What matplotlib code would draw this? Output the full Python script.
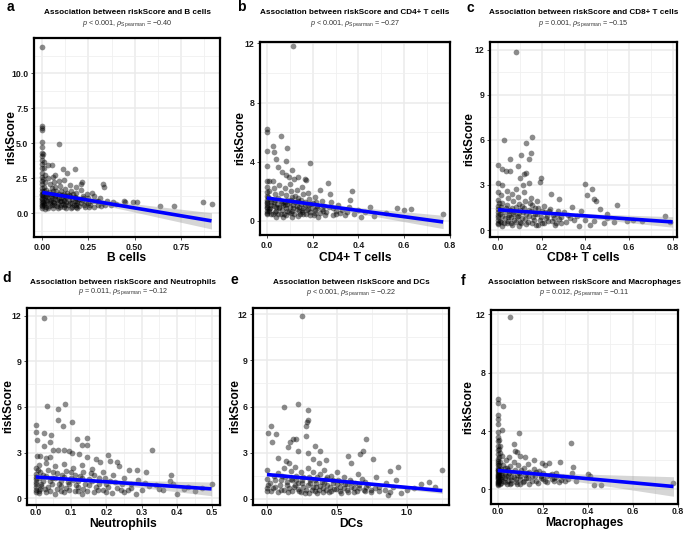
import numpy as np
import matplotlib
matplotlib.use("Agg")
import matplotlib.pyplot as plt
from matplotlib.ticker import FixedLocator

plt.rcParams['font.family'] = ['Liberation Sans', 'DejaVu Sans']
plt.rcParams['mathtext.fontset'] = 'custom'
plt.rcParams['mathtext.rm'] = 'Liberation Sans'
plt.rcParams['mathtext.it'] = 'Liberation Sans:italic'

# ---------------- data ----------------
cell_types = ["B cells", "CD4+ T cells", "CD8+ T cells", "Neutrophils", "DCs", "Macrophages"]
panel_letters = ["a", "b", "c", "d", "e", "f"]
p_texts = ["< 0.001", "< 0.001", "= 0.001", "= 0.011", "< 0.001", "= 0.012"]
rho_values = ["\u22120.40", "\u22120.27", "\u22120.15", "\u22120.12", "\u22120.22", "\u22120.11"]

# regression line: (x_start, y_start, x_end, y_end), CI half-widths
fit_lines = [(0.0, 1.48, 0.916, -0.55), (0.0, 1.55, 0.77, -0.07), (0.0, 1.35, 0.80, 0.54),
             (0.0, 1.39, 0.498, 0.61), (0.0, 1.58, 1.252, 0.53), (0.0, 1.30, 0.78, 0.20)]
ci_end_halfwidth = [0.58, 0.45, 0.35, 0.45, 0.18, 0.67]
ci_min_halfwidth = [0.06, 0.07, 0.06, 0.08, 0.05, 0.06]
x_means = [0.08, 0.12, 0.14, 0.11, 0.42, 0.08]

a_pts = [(0,11.85),(0,6.25),(0,6.05),(0,5.9),(0,5.05),(0,4.75),(0,4.3),(0,4.05),(0,3.8),(0,3.5),(0,3.2),(0,2.9),
 (0,2.6),(0,2.3),(0,2.05),(0,1.8),(0,1.55),(0,1.3),(0,1.1),(0,0.9),(0,0.7),(0,0.5),(0,0.35),
 (0.005,4.2),(0.008,3.65),(0.01,3.2),(0.012,2.75),(0.006,2.45),(0.015,2.2),(0.01,1.9),(0.02,1.65),(0.005,1.45),
 (0.018,1.25),(0.012,1.05),(0.025,0.85),(0.008,0.65),(0.02,0.45),(0.015,0.3),
 (0.089,4.95),(0.029,3.45),(0.054,3.45),(0.11,3.14),(0.175,3.14),(0.136,2.86),(0.07,2.75),(0.207,2.1),(0.215,2.25),
 (0.327,2.1),(0.336,1.86),(0.27,1.43),(0.44,0.9),(0.445,0.8),(0.49,0.83),(0.51,0.79),(0.636,0.48),(0.714,0.48),
 (0.87,0.83),(0.916,0.69),
 (0.03,2.5),(0.04,2.1),(0.05,1.8),(0.035,1.5),(0.045,1.2),(0.04,0.9),(0.05,0.6),(0.03,0.4),
 (0.06,2.6),(0.065,2.2),(0.07,1.9),(0.06,1.55),(0.075,1.3),(0.07,1.0),(0.065,0.75),(0.08,0.5),(0.06,0.35),
 (0.09,2.3),(0.095,1.95),(0.1,1.6),(0.09,1.35),(0.1,1.1),(0.095,0.85),(0.1,0.55),(0.085,0.35),
 (0.12,2.4),(0.125,1.7),(0.115,1.4),(0.13,1.15),(0.12,0.9),(0.125,0.6),(0.13,0.38),
 (0.15,2.0),(0.155,1.6),(0.145,1.3),(0.16,1.0),(0.15,0.75),(0.16,0.45),
 (0.18,1.9),(0.185,1.45),(0.175,1.15),(0.19,0.85),(0.18,0.55),(0.19,0.35),
 (0.21,1.65),(0.22,1.25),(0.215,0.95),(0.225,0.6),(0.24,1.35),(0.25,1.05),(0.245,0.7),(0.255,0.45),
 (0.28,1.2),(0.29,0.9),(0.3,0.6),(0.31,1.05),(0.33,0.75),(0.35,0.9),(0.37,0.55),(0.38,0.8),(0.4,0.65),
 (0.01,0.55),(0.015,0.75),(0.02,0.95),(0.025,1.15),(0.03,1.35),(0.01,1.6),(0.035,0.5),(0.04,0.7),(0.045,0.95),
 (0.05,1.4),(0.055,1.05),(0.06,0.8),(0.065,0.55),(0.07,1.2),(0.075,1.55),(0.08,0.95),(0.085,0.7),(0.09,1.1),
 (0.095,0.45),(0.1,0.9),(0.105,1.3),(0.11,0.65),(0.115,0.95),(0.12,0.45),(0.125,1.25),(0.13,0.8),(0.135,1.45),
 (0.14,0.55),(0.145,0.95),(0.15,1.2),(0.155,0.4),(0.16,0.75),(0.165,1.35),(0.17,0.6),(0.175,0.9),(0.18,1.1),
 (0.185,0.45),(0.19,0.7),(0.2,1.0),(0.2,0.5),(0.21,0.75),(0.22,1.05),(0.23,0.45),(0.235,0.8),(0.26,0.6),
 (0.27,0.9),(0.28,0.45),(0.3,0.85),(0.32,0.5),(0.34,0.6),(0.005,0.8),(0.005,1.2),(0.0,0.6),(0.0,1.0),(0.0,1.4)]

b_pts = [(0.114,11.85),(0,6.19),(0,6.03),(0.063,5.74),(0.026,5.06),(0.088,4.9),(0,4.72),(0.032,4.68),(0,3.73),
 (0.038,4.2),(0.082,4.07),(0.19,3.89),(0.05,3.66),(0.064,3.3),(0.108,3.43),(0.009,2.69),(0.026,2.69),(0,2.7),
 (0.085,3.1),(0.096,3.0),(0.117,2.82),(0.165,2.82),(0.172,2.75),(0.137,3.0),(0.265,2.55),(0.234,2.12),(0.276,1.85),
 (0.37,2.05),(0.363,1.45),(0.45,0.93),(0.567,0.9),(0.6,0.77),(0.63,0.84),(0.77,0.47),(0.41,0.27),(0.47,0.35),
 (0.52,0.55),(0.43,0.6),
 (0,2.3),(0,1.95),(0,1.7),(0,1.45),(0,1.2),(0,0.95),(0,0.7),(0,0.45),(0.01,2.0),(0.015,1.5),(0.02,1.1),(0.01,0.8),
 (0.02,0.5),(0.03,2.2),(0.035,1.8),(0.03,1.3),(0.04,0.95),(0.035,0.6),(0.04,0.3),
 (0.055,2.4),(0.06,1.9),(0.05,1.55),(0.065,1.2),(0.055,0.85),(0.06,0.5),(0.07,0.3),
 (0.08,2.2),(0.085,1.75),(0.09,1.4),(0.08,1.05),(0.09,0.7),(0.085,0.4),
 (0.1,2.5),(0.105,2.0),(0.11,1.6),(0.1,1.25),(0.115,0.9),(0.105,0.55),(0.11,0.3),
 (0.13,2.1),(0.125,1.7),(0.135,1.35),(0.13,1.0),(0.14,0.65),(0.135,0.35),
 (0.155,2.3),(0.16,1.8),(0.15,1.45),(0.165,1.1),(0.155,0.75),(0.16,0.45),
 (0.18,1.9),(0.185,1.5),(0.19,1.15),(0.18,0.8),(0.19,0.4),
 (0.21,1.6),(0.215,1.25),(0.22,0.9),(0.21,0.55),(0.225,0.3),
 (0.24,1.35),(0.25,1.0),(0.245,0.65),(0.255,0.4),
 (0.28,1.25),(0.29,0.85),(0.3,0.5),(0.31,1.1),(0.33,0.75),(0.34,0.4),(0.36,0.95),
 (0.0,0.55),(0.0,0.85),(0.0,1.05),(0.0,1.3),(0.005,1.6),(0.01,0.65),(0.015,0.9),(0.02,1.25),(0.025,0.45),(0.03,1.0),
 (0.035,1.45),(0.04,0.7),(0.045,1.15),(0.05,0.5),(0.055,0.95),(0.06,1.35),(0.065,0.75),(0.07,1.05),(0.075,0.5),
 (0.08,1.3),(0.085,0.85),(0.09,1.15),(0.095,0.6),(0.1,0.95),(0.105,1.4),(0.11,0.7),(0.115,1.1),(0.12,0.45),
 (0.125,1.3),(0.13,0.8),(0.135,1.55),(0.14,0.95),(0.145,0.5),(0.15,1.15),(0.155,0.6),(0.16,0.9),(0.165,1.3),
 (0.17,0.45),(0.175,0.75),(0.18,1.05),(0.19,0.6),(0.195,0.9),(0.2,1.2),(0.205,0.4),(0.21,0.75),(0.22,1.0),
 (0.23,0.55),(0.24,0.8),(0.26,0.6),(0.27,0.95),(0.29,0.4),(0.3,0.7),(0.32,0.55),(0.35,0.6),(0.38,0.5),(0.4,0.75)]

c_pts = [(0.083,11.85),(0.026,5.96),(0.156,6.2),(0.126,5.8),(0.103,4.98),(0.15,5.13),(0.14,4.74),(0.053,4.74),(0,4.3),
 (0.02,4.09),(0.035,3.9),(0.056,3.93),(0.09,4.26),(0.1,3.46),(0.118,3.74),(0.129,3.78),(0.197,3.46),(0.194,3.17),
 (0.141,3.13),(0.114,3.0),(0,3.13),(0.02,3.0),(0.083,2.76),(0.244,2.37),(0.28,2.04),(0.398,3.07),(0.429,2.7),
 (0.406,2.33),(0.439,2.04),(0.45,1.91),(0.465,1.39),(0.544,1.67),(0.498,1.07),(0.765,0.91),(0.79,0.57),(0.486,0.46),
 (0.59,0.6),(0.37,0.3),(0.42,0.35),(0.34,1.55),(0.38,1.25),(0.3,1.2),(0.33,0.8),
 (0,2.5),(0,2.0),(0,1.6),(0,1.2),(0,0.85),(0,0.5),(0.015,2.3),(0.02,1.8),(0.015,1.35),(0.02,0.95),(0.015,0.55),(0.02,0.3),
 (0.04,2.6),(0.045,2.1),(0.04,1.65),(0.05,1.25),(0.045,0.85),(0.04,0.45),
 (0.065,2.4),(0.07,1.9),(0.065,1.45),(0.07,1.05),(0.075,0.7),(0.065,0.35),
 (0.09,2.2),(0.095,1.75),(0.1,1.35),(0.09,0.95),(0.1,0.55),(0.095,0.3),
 (0.12,2.5),(0.125,1.95),(0.12,1.5),(0.13,1.1),(0.125,0.75),(0.13,0.4),
 (0.15,2.15),(0.155,1.7),(0.15,1.3),(0.16,0.9),(0.155,0.5),
 (0.18,1.9),(0.185,1.45),(0.18,1.05),(0.19,0.7),(0.185,0.35),
 (0.21,1.6),(0.215,1.2),(0.22,0.8),(0.21,0.45),(0.24,1.4),(0.25,1.0),(0.245,0.6),(0.26,0.35),
 (0.27,1.1),(0.28,0.75),(0.29,0.5),
 (0.0,0.4),(0.0,0.7),(0.0,1.0),(0.0,1.4),(0.005,1.8),(0.01,0.6),(0.01,1.1),(0.015,1.55),(0.025,0.45),(0.03,0.8),
 (0.03,1.2),(0.035,1.5),(0.045,0.6),(0.05,1.0),(0.055,1.35),(0.06,0.45),(0.06,0.85),(0.075,1.2),(0.08,0.55),
 (0.08,1.55),(0.085,0.9),(0.095,1.15),(0.105,0.45),(0.11,0.8),(0.11,1.6),(0.115,1.2),(0.135,0.55),(0.14,0.95),
 (0.14,1.35),(0.145,1.8),(0.165,0.65),(0.17,1.05),(0.17,1.5),(0.175,0.35),(0.195,0.85),(0.2,1.25),(0.2,0.5),
 (0.225,0.95),(0.23,0.6),(0.235,1.3),(0.255,0.8),(0.265,0.45),(0.275,1.25),(0.29,0.85),(0.31,0.55),(0.32,1.0),
 (0.35,0.65),(0.36,0.95),(0.4,0.7),(0.44,0.6),(0.5,0.8),(0.53,0.55),(0.62,0.7),(0.66,0.6)]

d_pts = [(0.024,11.85),(0.031,6.04),(0.064,5.87),(0.083,6.2),(0.062,5.13),(0.076,4.76),(0.103,5.0),(0,4.78),(0,4.35),
 (0.003,3.79),(0.022,4.29),(0.043,4.16),(0.041,3.72),(0.022,3.42),(0.118,3.92),(0.145,3.94),(0.13,3.48),(0.146,3.48),
 (0.33,3.16),(0.048,3.14),(0.064,3.14),(0.079,3.14),(0.093,3.07),(0.103,3.0),(0.121,2.9),(0.205,2.84),(0.003,2.75),
 (0.012,2.75),(0.028,2.65),(0.041,2.7),(0.145,2.68),(0.17,2.55),(0.183,2.36),(0.21,2.47),(0.23,2.36),(0.236,2.1),
 (0.263,1.84),(0.287,1.84),(0.312,1.71),(0.382,1.49),(0.38,1.1),(0.498,0.95),(0.4,0.26),(0.283,0.3),(0.34,0.85),
 (0.35,0.6),(0.43,0.75),(0.47,0.7),(0.31,1.0),(0.27,0.95),(0.25,1.3),(0.26,0.55),
 (0,2.0),(0,1.6),(0,1.25),(0,0.9),(0,0.55),(0.01,2.2),(0.012,1.7),(0.01,1.3),(0.015,0.95),(0.012,0.6),(0.01,0.35),
 (0.03,2.3),(0.035,1.85),(0.03,1.45),(0.04,1.1),(0.035,0.75),(0.03,0.4),
 (0.055,2.1),(0.06,1.65),(0.055,1.3),(0.065,0.95),(0.06,0.6),(0.055,0.3),
 (0.08,2.25),(0.085,1.8),(0.08,1.4),(0.09,1.05),(0.085,0.7),(0.08,0.4),
 (0.105,2.0),(0.11,1.55),(0.105,1.2),(0.115,0.85),(0.11,0.5),
 (0.13,2.2),(0.135,1.7),(0.13,1.3),(0.14,0.95),(0.135,0.6),(0.13,0.3),
 (0.16,1.9),(0.165,1.5),(0.16,1.1),(0.17,0.75),(0.165,0.4),
 (0.19,1.7),(0.195,1.3),(0.2,0.9),(0.19,0.55),(0.22,1.5),(0.225,1.05),(0.23,0.7),(0.215,0.35),
 (0.0,0.4),(0.0,0.75),(0.0,1.05),(0.0,1.4),(0.005,1.85),(0.008,0.5),(0.015,0.8),(0.02,1.1),(0.02,1.5),(0.025,0.6),
 (0.04,0.5),(0.045,0.9),(0.045,1.3),(0.05,1.7),(0.07,0.45),(0.07,0.8),(0.07,1.15),(0.075,1.5),(0.095,0.55),
 (0.095,0.9),(0.1,1.3),(0.1,1.7),(0.12,0.45),(0.12,0.75),(0.12,1.1),(0.125,1.45),(0.145,0.5),(0.15,0.85),
 (0.15,1.25),(0.155,1.65),(0.175,0.55),(0.18,0.95),(0.18,1.3),(0.2,0.4),(0.205,0.75),(0.21,1.15),(0.24,0.55),
 (0.245,0.9),(0.25,0.4),(0.27,0.7),(0.29,1.2),(0.3,0.55),(0.32,0.8),(0.36,0.55),(0.39,0.9),(0.42,0.6),(0.45,0.5)]

e_pts = [(0.25,11.85),(0.119,5.94),(0.224,6.17),(0.295,5.79),(0.295,5.1),(0.288,4.98),(0.276,4.72),(0.005,4.3),
 (0.031,4.72),(0.062,4.23),(0.038,3.72),(0.281,4.09),(0.148,3.38),(0.167,3.72),(0.186,3.87),(0.205,3.9),(0.343,3.45),
 (0.381,3.09),(0.224,3.09),(0.293,3.0),(0.705,3.87),(0.686,3.13),(0.662,2.89),(0.757,2.6),(0.581,2.81),(0.079,2.64),
 (0.138,2.45),(0.16,2.3),(0.33,2.6),(0.424,2.55),(0.37,2.3),(0.936,2.06),(0.881,1.79),(1.252,1.89),(1.16,1.1),
 (1.2,0.79),(1.0,0.55),(0.864,0.26),(0.96,0.4),(1.05,0.7),(1.1,0.95),(0.92,1.2),(0.85,1.0),(0.78,1.4),(0.74,0.6),
 (0.8,0.75),(0.7,1.1),(0.65,1.6),(0.6,2.3),
 (0.0,1.9),(0.0,1.3),(0.0,0.7),(0.02,1.0),(0.03,0.5),(0.05,1.5),(0.06,0.8),(0.08,1.7),(0.1,1.2),(0.1,0.6),(0.12,2.0),
 (0.13,1.4),(0.14,0.9),(0.15,0.45),(0.17,1.8),(0.18,1.25),(0.19,0.75),(0.2,2.1),(0.21,1.5),(0.22,1.0),(0.23,0.5),
 (0.24,1.75),(0.25,1.2),(0.26,0.8),(0.27,0.35),(0.29,2.0),(0.3,1.45),(0.31,1.0),(0.32,0.6),(0.33,1.75),(0.34,1.2),
 (0.35,0.8),(0.36,0.4),(0.38,1.6),(0.39,1.1),(0.4,0.7),(0.41,1.9),(0.42,1.3),(0.43,0.9),(0.44,0.45),
 (0.46,1.5),(0.47,1.05),(0.48,0.65),(0.5,1.75),(0.51,1.2),(0.52,0.8),(0.53,0.4),
 (0.55,1.4),(0.56,0.95),(0.57,0.55),(0.59,1.25),(0.6,0.8),(0.62,0.45),(0.63,1.05),(0.66,0.7),(0.68,1.3),(0.7,0.5),(0.72,0.9),
 (0.0,0.5),(0.01,0.9),(0.04,0.7),(0.06,1.2),(0.08,0.45),(0.09,0.9),(0.11,1.5),(0.12,0.6),(0.14,1.1),(0.16,0.7),
 (0.17,1.3),(0.18,0.5),(0.2,0.9),(0.21,1.2),(0.22,0.65),(0.24,0.45),(0.25,1.0),(0.26,1.45),(0.28,0.6),(0.29,0.9),
 (0.3,0.4),(0.31,1.2),(0.33,0.75),(0.34,0.5),(0.35,1.05),(0.36,1.4),(0.37,0.6),(0.38,0.85),(0.4,0.45),(0.41,1.05),
 (0.42,0.6),(0.43,1.4),(0.45,0.8),(0.46,0.5),(0.47,1.2),(0.49,0.65),(0.5,0.95),(0.52,0.5),(0.53,1.1),(0.55,0.7),
 (0.57,0.95),(0.58,0.45),(0.6,1.1),(0.62,0.7),(0.64,0.5),(0.66,0.9),(0.69,0.6),(0.71,0.8),(0.74,0.45),(0.77,0.7),
 (0.8,0.5),(0.84,0.6),(0.88,0.45),(0.9,0.8)]

f_pts = [(0.056,11.85),(0,6.2),(0,5.9),(0.024,5.75),(0,5.08),(0,4.85),(0,4.5),(0,3.95),(0.093,3.9),(0.019,4.07),
 (0.327,3.15),(0.071,3.12),(0.012,3.0),(0.078,2.6),(0.085,2.55),(0.1,2.3),(0.12,2.25),(0.16,2.04),(0.195,1.82),
 (0.21,1.7),(0.229,1.82),(0.275,1.89),(0.333,1.53),(0.33,1.1),(0.26,1.1),(0.4,1.08),(0.408,0.92),(0.426,0.29),
 (0.46,0.31),(0.78,0.43),(0.348,0.58),(0.3,0.6),(0.25,0.55),(0.22,0.9),
 (0,3.6),(0,3.3),(0,3.0),(0,2.7),(0,2.4),(0,2.1),(0,1.8),(0,1.5),(0,1.2),(0,0.95),(0,0.7),(0,0.45),(0,0.3),
 (0.005,3.4),(0.005,2.8),(0.005,2.2),(0.005,1.65),(0.005,1.1),(0.005,0.6),(0.01,2.5),(0.01,1.9),(0.01,1.35),
 (0.01,0.8),(0.01,0.4),
 (0.02,2.3),(0.025,1.7),(0.02,1.1),(0.025,0.6),(0.035,2.0),(0.04,1.45),(0.035,0.9),(0.04,0.4),
 (0.05,2.2),(0.055,1.6),(0.05,1.1),(0.06,0.65),(0.055,0.35),(0.07,1.9),(0.075,1.35),(0.07,0.85),(0.08,0.5),
 (0.09,1.7),(0.095,1.15),(0.1,0.7),(0.1,0.35),(0.115,1.5),(0.12,1.0),(0.115,0.55),
 (0.135,1.75),(0.14,1.2),(0.135,0.8),(0.14,0.4),(0.16,1.4),(0.165,0.95),(0.17,0.55),
 (0.185,1.25),(0.19,0.75),(0.2,1.1),(0.21,0.6),(0.23,1.0),(0.24,0.7),(0.26,0.85),(0.28,0.65),
 (0.0,0.4),(0.0,0.6),(0.0,0.85),(0.0,1.05),(0.0,1.35),(0.0,1.65),(0.0,1.95),(0.003,0.5),(0.003,0.75),(0.003,1.0),
 (0.003,1.3),(0.007,0.55),(0.007,0.9),(0.007,1.2),(0.015,0.45),(0.015,0.7),(0.015,1.0),(0.015,1.4),(0.02,0.85),
 (0.03,0.5),(0.03,0.75),(0.03,1.1),(0.03,1.5),(0.045,0.6),(0.045,0.95),(0.045,1.3),(0.06,0.45),(0.06,0.85),
 (0.065,1.2),(0.08,0.7),(0.085,1.0),(0.085,0.4),(0.1,0.9),(0.105,1.3),(0.11,0.5),(0.125,0.75),(0.13,1.1),
 (0.15,0.55),(0.15,0.9),(0.17,1.2),(0.18,0.45),(0.19,0.95),(0.2,0.7),(0.22,0.5),(0.24,1.05),(0.25,0.75),
 (0.27,0.5),(0.29,0.85),(0.31,0.7)]

panel_points = [a_pts, b_pts, c_pts, d_pts, e_pts, f_pts]

x_ticks = [[0, 0.25, 0.5, 0.75], [0, 0.2, 0.4, 0.6, 0.8], [0, 0.2, 0.4, 0.6, 0.8],
           [0, 0.1, 0.2, 0.3, 0.4, 0.5], [0, 0.5, 1.0], [0, 0.2, 0.4, 0.6, 0.8]]
x_ticklabels = [["0.00", "0.25", "0.50", "0.75"], ["0.0", "0.2", "0.4", "0.6", "0.8"],
                ["0.0", "0.2", "0.4", "0.6", "0.8"], ["0.0", "0.1", "0.2", "0.3", "0.4", "0.5"],
                ["0.0", "0.5", "1.0"], ["0.0", "0.2", "0.4", "0.6", "0.8"]]
y_ticks = [[0, 2.5, 5, 7.5, 10], [0, 4, 8, 12], [0, 3, 6, 9, 12], [0, 3, 6, 9, 12], [0, 3, 6, 9, 12], [0, 4, 8, 12]]
y_ticklabels = [["0.0", "2.5", "5.0", "7.5", "10.0"], ["0", "4", "8", "12"], ["0", "3", "6", "9", "12"],
                ["0", "3", "6", "9", "12"], ["0", "3", "6", "9", "12"], ["0", "4", "8", "12"]]

# ---------------- layout (pixels) ----------------
W, H = 685, 535
axes_px = [(34, 220, 38, 237), (260, 450, 42, 235), (490, 677, 42, 237),
           (27, 220, 308, 505), (253, 449, 308, 505), (491, 678, 310, 504)]
xlims = [(-0.045, 0.962), (-0.03, 0.80), (-0.037, 0.82), (-0.025, 0.522), (-0.1, 1.3), (-0.03, 0.80)]
ylims = [(-1.7, 12.5), (-0.95, 12.1), (-0.46, 12.5), (-0.45, 12.5), (-0.4, 12.4), (-1.0, 12.3)]
letter_px = [(10, 7), (241, 7), (470, 8), (7, 278), (234, 280), (463, 281)]
title_y = [12, 13, 13, 282, 283, 283]
sub_y = [24, 24, 24, 292, 293, 293]
ylab_x = [11, 240, 469, 8, 235, 468]
xlab_y = [258, 258, 258, 524, 524, 523]
bottom_row = [False, False, False, True, True, True]

fig = plt.figure(figsize=(W / 100, H / 100), dpi=100)

for i in range(6):
    l, r, t, b = axes_px[i]
    ax = fig.add_axes([l / W, 1 - b / H, (r - l) / W, (b - t) / H])
    ax.set_xlim(*xlims[i]); ax.set_ylim(*ylims[i])
    xt = x_ticks[i]; yt = y_ticks[i]
    ax.set_xticks(xt); ax.set_xticklabels(x_ticklabels[i])
    ax.set_yticks(yt); ax.set_yticklabels(y_ticklabels[i])
    dx = (xt[1] - xt[0]) / 2; dy = (yt[1] - yt[0]) / 2
    xm = np.arange(xt[0] - dx * 6, xlims[i][1] + dx, dx)
    ym = np.arange(yt[0] - dy * 6, ylims[i][1] + dy, dy)
    ax.xaxis.set_minor_locator(FixedLocator(xm))
    ax.yaxis.set_minor_locator(FixedLocator(ym))
    ax.grid(which='major', color='#EBEBEB', lw=1.1, zorder=0)
    ax.grid(which='minor', color='#F0F0F0', lw=0.6, zorder=0)
    ax.set_axisbelow(True)
    ax.tick_params(which='minor', length=0)
    ax.tick_params(which='major', length=2.5, width=0.6, color='#333333', pad=1.5,
                   labelsize=6.3, labelcolor='#1a1a1a')
    if bottom_row[i]:
        ax.tick_params(axis='x', which='major', length=1.8, pad=0.6)
    for lab in ax.get_xticklabels() + ax.get_yticklabels():
        lab.set_fontweight('bold')
    for s in ax.spines.values():
        s.set_linewidth(1.6); s.set_color('black')

    pts = np.array(panel_points[i])
    ax.scatter(pts[:, 0], pts[:, 1], s=17, c='black', alpha=0.45, linewidths=0, zorder=2)

    x0, y0, x1, y1 = fit_lines[i]
    xs = np.linspace(x0, x1, 100)
    ys = y0 + (y1 - y0) * (xs - x0) / (x1 - x0)
    hw_min = ci_min_halfwidth[i]; hw_end = ci_end_halfwidth[i]; xb = x_means[i]
    k = (hw_end ** 2 - hw_min ** 2) / (x1 - xb) ** 2
    hw = np.sqrt(hw_min ** 2 + k * (xs - xb) ** 2)
    ax.fill_between(xs, ys - hw, ys + hw, color='#999999', alpha=0.4, lw=0, zorder=3)
    ax.plot(xs, ys, color='#0000FF', lw=2.6, zorder=4, solid_capstyle='butt')

    ax.set_xlabel(cell_types[i], fontsize=8.7, fontweight='bold', va='center')
    ax.xaxis.set_label_coords(0.5, (b - xlab_y[i]) / (b - t))
    ax.set_ylabel("riskScore", fontsize=8.5, fontweight='bold', va='center')
    ax.yaxis.set_label_coords((ylab_x[i] - l) / (r - l), 0.5)

    cx = (l + r) / 2 / W
    fig.text(cx, 1 - title_y[i] / H, "Association between riskScore and " + cell_types[i],
             ha='center', va='center', fontsize=5.9, fontweight='bold')
    fig.text(cx, 1 - sub_y[i] / H,
             r"$\it{p}$ " + p_texts[i] + r", $\it{\rho}_{\mathrm{Spearman}}$ = " + rho_values[i],
             ha='center', va='center', fontsize=5.2, color='#333333')
    lx, ly = letter_px[i]
    fig.text(lx / W, 1 - ly / H, panel_letters[i], ha='center', va='center', fontsize=10, fontweight='bold')

fig.savefig("out.png", dpi=100)
